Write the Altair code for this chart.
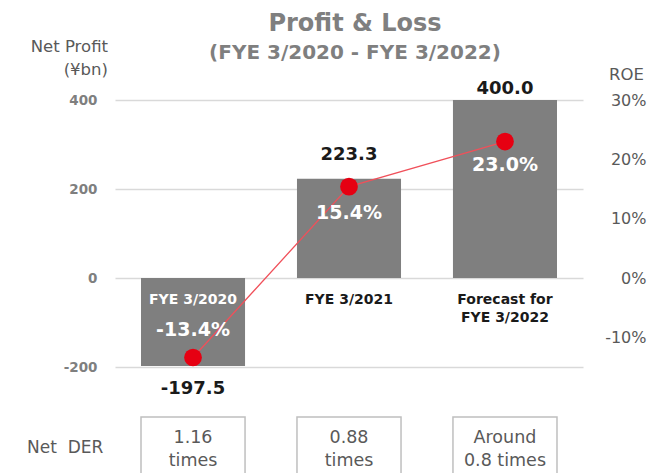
import altair as alt
import pandas as pd

# ---- data ----
categories = ["FYE 3/2020", "FYE 3/2021", "Forecast for\nFYE 3/2022"]
net_profit = [-197.5, 223.3, 400.0]
profit_labels = ["-197.5", "223.3", "400.0"]
roe = [-13.4, 15.4, 23.0]
roe_labels = ["-13.4%", "15.4%", "23.0%"]
net_der = ["1.16\ntimes", "0.88\ntimes", "Around\n0.8 times"]
profit_ticks = [-200, 0, 200, 400]
roe_ticks = [-10, 0, 10, 20, 30]

df = pd.DataFrame({
    "cat": categories,
    "profit": net_profit,
    "plabel": profit_labels,
    "roe": roe,
    "rlabel": roe_labels,
    "der": net_der,
})

# ---- styles ----
FONT = "DejaVu Sans"
GRAY = "#7f7f7f"
DGRAY = "#595959"
BLACK = "#1a1a1a"
value_dy = [23, -24, -11]
roe_dy = [-28, 26, 23]

x = alt.X("cat:N", axis=None,
          scale=alt.Scale(domain=categories, paddingInner=0.333, paddingOuter=0.1667))
yp_scale = alt.Scale(domain=[-200, 400], nice=False)
yr_scale = alt.Scale(domain=[-15, 30], nice=False, zero=False)

base = alt.Chart(df)

bars = base.mark_bar(color=GRAY).encode(
    x=x,
    y=alt.Y("profit:Q", scale=yp_scale,
            axis=alt.Axis(values=profit_ticks, grid=True, gridColor="#d9d9d9", gridWidth=1.5,
                          domain=False, ticks=False, tickSize=0, labelPadding=18,
                          labelExpr="'' + datum.value",
                          labelFont=FONT, labelFontSize=13.5, labelFontWeight="bold",
                          labelColor=GRAY, title=None)),
)

cat_text = base.mark_text(font=FONT, fontSize=14, fontWeight="bold", baseline="top",
                          dy=15, lineBreak="\n", lineHeight=18).encode(
    x=x,
    y=alt.YDatum(0, scale=yp_scale, axis=None),
    text="cat:N",
    color=alt.condition(alt.FieldEqualPredicate(field="cat", equal=categories[0]),
                        alt.value("white"), alt.value(BLACK)),
)

value_layers = []
for cat, dy in zip(categories, value_dy):
    value_layers.append(
        base.transform_filter(alt.FieldOneOfPredicate(field="cat", oneOf=[cat]))
        .mark_text(font=FONT, fontSize=18, fontWeight="bold", color=BLACK,
                   baseline="middle", dy=dy)
        .encode(x=x, y=alt.Y("profit:Q", scale=yp_scale, axis=None), text="plabel:N")
    )

line = base.mark_line(color="#f0505a", strokeWidth=1.3).encode(
    x=x,
    y=alt.Y("roe:Q", scale=yr_scale,
            axis=alt.Axis(orient="right", values=roe_ticks, labelExpr="datum.value + '%'",
                          grid=False, domain=False, ticks=False, tickSize=0,
                          labelAlign="right", labelPadding=63,
                          labelFont=FONT, labelFontSize=16, labelColor=DGRAY, title=None)),
)

points = base.mark_circle(size=314, color="#e60012", opacity=1).encode(
    x=x, y=alt.Y("roe:Q", scale=yr_scale, axis=None)
)

roe_layers = []
for cat, dy in zip(categories, roe_dy):
    roe_layers.append(
        base.transform_filter(alt.FieldOneOfPredicate(field="cat", oneOf=[cat]))
        .mark_text(font=FONT, fontSize=19, fontWeight="bold", color="white",
                   baseline="middle", dy=dy)
        .encode(x=x, y=alt.Y("roe:Q", scale=yr_scale, axis=None), text="rlabel:N")
    )

boxes = base.mark_bar(fill="white", stroke="#bfbfbf", strokeWidth=1.5).encode(
    x=x, y=alt.value(317), y2=alt.value(400)
)

box_text = base.mark_text(font=FONT, fontSize=17.5, color=DGRAY, baseline="middle",
                          lineBreak="\n", lineHeight=22.5).encode(
    x=x, y=alt.value(338), text="der:N"
)


def note(text, px, py, size, weight="normal", color=DGRAY, align="center"):
    return alt.Chart(pd.DataFrame({"t": [text]})).mark_text(
        font=FONT, fontSize=size, fontWeight=weight, color=color, align=align,
        baseline="middle"
    ).encode(x=alt.value(px), y=alt.value(py), text="t:N")


notes = [
    note("Profit & Loss", 240, -76, 24, "bold", GRAY),
    note("(FYE 3/2020 - FYE 3/2022)", 240, -47, 20, "bold", GRAY),
    note("Net Profit", -7, -53, 16.5, align="right"),
    note("(¥bn)", -7, -30, 16.5, align="right"),
    note("ROE", 529, -25, 16.5, align="right"),
    note("Net\u00a0 DER", -88, 348, 17, align="left"),
]

chart = alt.layer(
    bars, cat_text, *value_layers, line, points, *roe_layers, boxes, box_text, *notes
).resolve_scale(y="independent").properties(
    width=468, height=267,
    background="white",
    autosize=alt.AutoSizeParams(type="none"),
    padding={"left": 115, "top": 100, "right": 74, "bottom": 106},
).configure_view(strokeWidth=0, stroke="transparent")

chart.save("out.html", embed_options={"renderer": "svg", "actions": False})
